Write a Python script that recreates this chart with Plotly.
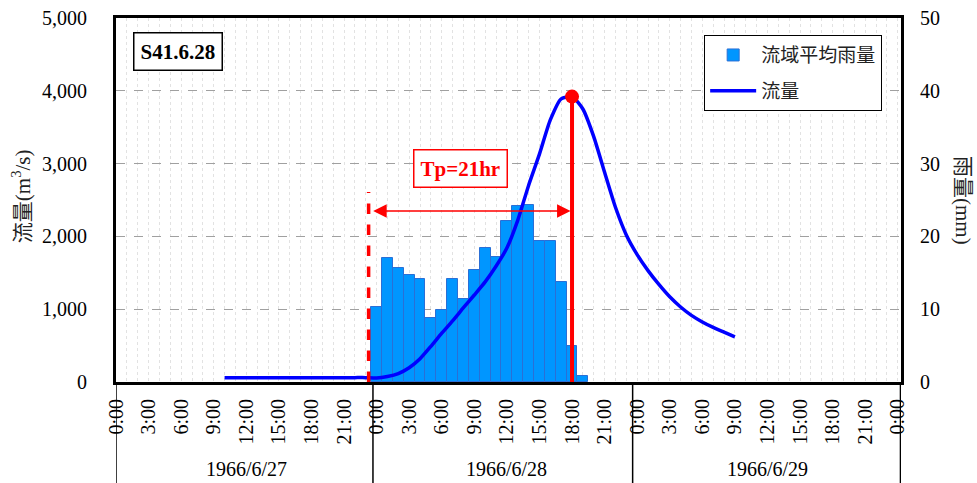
import plotly.graph_objects as go
import pandas as pd

# ---- data ----
rain_times = pd.date_range("1966-06-28 00:00", periods=20, freq="h")
rain_mm = [10.3, 17.1, 15.6, 14.7, 14.2, 8.8, 9.9, 14.1, 11.4, 15.4,
           18.4, 17.2, 22.1, 24.2, 24.3, 19.4, 19.4, 13.7, 5.0, 0.8]

flow_times = pd.date_range("1966-06-27 10:00", "1966-06-29 09:00", freq="h")
flow_cms = [60, 60, 60, 60, 60, 60, 60, 60, 60, 60, 60, 60, 60, 60,
            55, 75, 115, 195, 320, 490, 670, 840, 1020, 1195, 1375, 1590,
            1840, 2220, 2700, 3130, 3600, 3890, 3920, 3750, 3370, 2880, 2400, 2020,
            1750, 1530, 1340, 1170, 1030, 915, 825, 750, 685, 620]

peak_time = "1966-06-28 18:00"
peak_flow = 3920
rain_start_time = "1966-06-27 23:16"
tp_label = "Tp=21hr"
event_label = "S41.6.28"
day_labels = ["1966/6/27", "1966/6/28", "1966/6/29"]
day_centers = ["1966-06-27 12:00", "1966-06-28 12:00", "1966-06-29 12:00"]
day_separators = ["1966-06-27 00:00", "1966-06-27 23:40", "1966-06-28 23:35", "1966-06-30 00:15"]
x_range = ["1966-06-27 00:00", "1966-06-30 00:18"]

SERIF = "Liberation Serif, Times New Roman, Noto Sans CJK JP, serif"
SANS = "Noto Sans CJK JP, sans-serif"

fig = go.Figure()

fig.add_trace(go.Bar(
    x=rain_times, y=rain_mm, name="流域平均雨量", yaxis="y",
    width=3600000, marker=dict(color="#0096FF", line=dict(color="#2A6FD6", width=1)),
    legendgroup="a",
))
fig.add_trace(go.Scatter(
    x=flow_times, y=flow_cms, name="流量", yaxis="y2", mode="lines",
    line=dict(color="#0000FF", width=3.5, shape="spline", smoothing=0.6), legendgroup="b",
))
fig.add_trace(go.Scatter(
    x=[peak_time], y=[peak_flow], yaxis="y2", mode="markers",
    marker=dict(color="#FF0000", size=14), showlegend=False, hoverinfo="skip",
))

grid_light = "#E2E2E2"
fig.update_layout(
    width=977, height=483,
    margin=dict(l=116, r=76, t=18, b=101),
    paper_bgcolor="white", plot_bgcolor="white",
    bargap=0,
    showlegend=True,
    legend=dict(x=0.976, xanchor="right", y=0.953, yanchor="top",
                bgcolor="white", bordercolor="black", borderwidth=1,
                font=dict(family=SANS, size=19, color="#222"),
                traceorder="grouped", tracegroupgap=8, itemwidth=46),
    xaxis=dict(
        type="date", range=x_range, automargin=False,
        tick0="1966-06-27 00:00", dtick=3 * 3600000,
        tickformat="%-H:%M", tickangle=-90,
        tickfont=dict(family=SERIF, size=20, color="black"),
        showgrid=True, gridcolor=grid_light, griddash="dot", gridwidth=1,
        minor=dict(dtick=3600000, showgrid=True, gridcolor=grid_light, griddash="dot", gridwidth=1),
        showline=True, linecolor="black", linewidth=3, mirror=True,
        ticks="", ticklabelstandoff=6, zeroline=False,
    ),
    yaxis=dict(
        range=[0, 50], dtick=10, side="right", automargin=False,
        tickfont=dict(family=SERIF, size=20, color="black"),
        showgrid=True, gridcolor="#A0A0A0", griddash="dash", gridwidth=1,
        showline=True, linecolor="black", linewidth=3, mirror=True,
        ticks="", ticklabelstandoff=12, zeroline=False,
    ),
    yaxis2=dict(
        range=[0, 5000], dtick=1000, side="left", overlaying="y", automargin=False,
        tickformat=",d",
        tickfont=dict(family=SERIF, size=20, color="black"),
        showgrid=False,
        showline=True, linecolor="black", linewidth=3,
        ticks="", ticklabelstandoff=22, zeroline=False,
    ),
)

shapes = []
shapes.append(dict(type="line", xref="x", yref="y2", x0=rain_start_time, x1=rain_start_time,
                   y0=0, y1=2610, line=dict(color="#FF0000", width=3.5, dash="dash"), layer="above"))
shapes.append(dict(type="line", xref="x", yref="y2", x0=peak_time, x1=peak_time,
                   y0=0, y1=peak_flow, line=dict(color="#FF0000", width=4), layer="above"))
for s in day_separators:
    shapes.append(dict(type="line", xref="x", yref="paper", x0=s, x1=s, y0=0, y1=-0.28,
                       line=dict(color="black", width=1.5)))
fig.update_layout(shapes=shapes)

annotations = []
annotations.append(dict(
    x="1966-06-28 17:52", y=2349, xref="x", yref="y2",
    ax="1966-06-27 23:33", ay=2349, axref="x", ayref="y2",
    text="", showarrow=True, arrowside="end+start", arrowhead=2,
    arrowsize=1.8, arrowwidth=1.5, arrowcolor="#FF0000",
))
annotations.append(dict(
    x="1966-06-28 07:45", y=2933, xref="x", yref="y2", text="<b>" + tp_label + "</b>",
    showarrow=False, font=dict(family=SERIF, size=21, color="#FF0000"),
    bordercolor="#FF0000", borderwidth=1.5, borderpad=6, bgcolor="white",
))
annotations.append(dict(
    x=0.079, y=0.907, xref="paper", yref="paper", xanchor="center", yanchor="middle",
    text="<b>" + event_label + "</b>",
    showarrow=False, font=dict(family=SERIF, size=21, color="black"),
    bordercolor="black", borderwidth=1.5, borderpad=6, bgcolor="white",
))
for lab, c in zip(day_labels, day_centers):
    annotations.append(dict(x=c, y=-0.24, xref="x", yref="paper", yanchor="middle",
                            text=lab, showarrow=False,
                            font=dict(family=SERIF, size=20, color="black")))
annotations.append(dict(x=-0.12, y=0.51, xref="paper", yref="paper", xanchor="center", yanchor="middle",
                        text="流量(m<sup>3</sup>/s)",
                        textangle=-90, showarrow=False,
                        font=dict(family=SERIF, size=21, color="#222")))
annotations.append(dict(x=1.079, y=0.5, xref="paper", yref="paper", xanchor="center", yanchor="middle",
                        text="雨量(mm)",
                        textangle=90, showarrow=False,
                        font=dict(family=SERIF, size=21, color="#222")))
fig.update_layout(annotations=annotations)

fig.write_html("out.html", config={"displayModeBar": False},
               post_script="document.body.style.margin='0';document.body.style.overflow='hidden';")
